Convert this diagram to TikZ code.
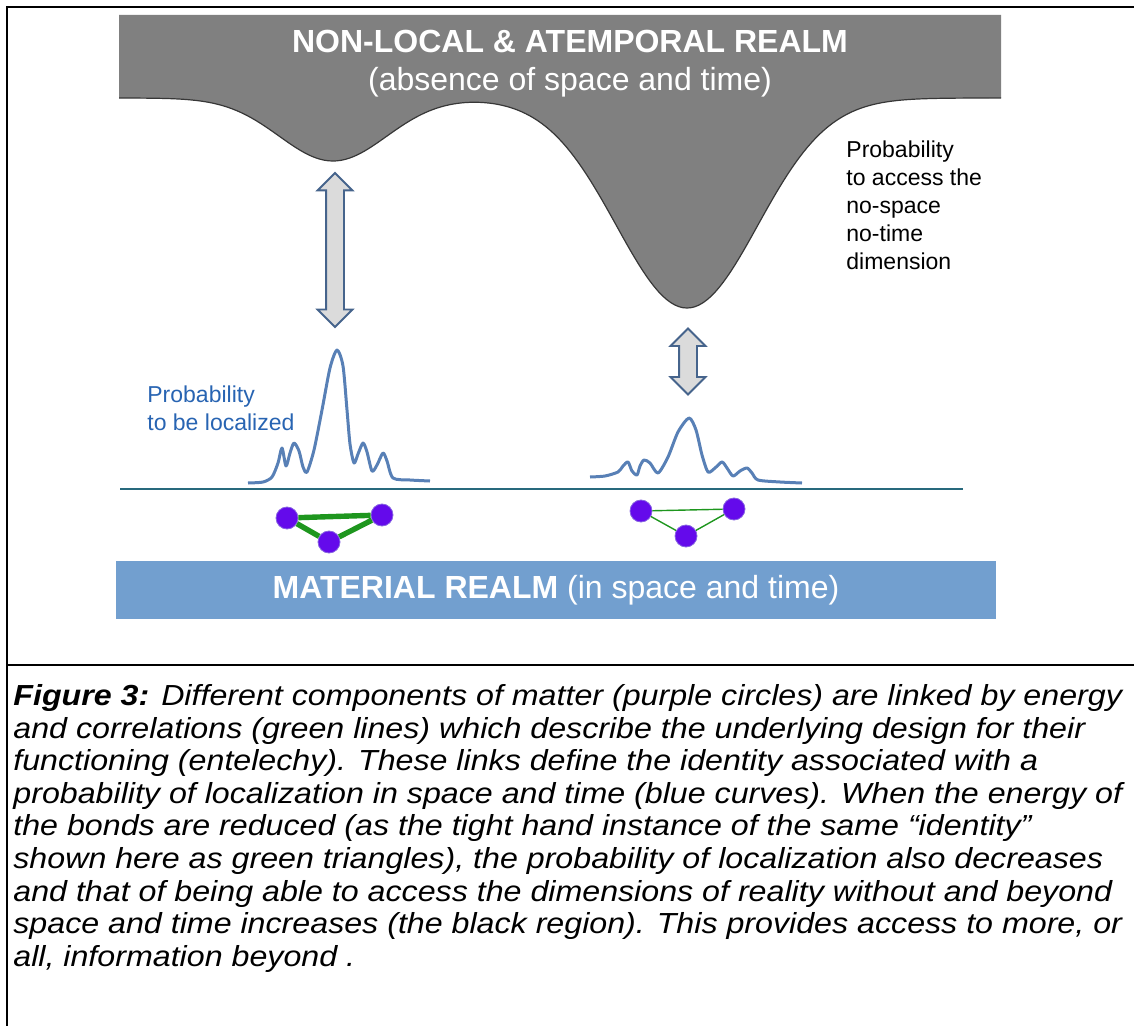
\documentclass[tikz,border=0pt]{standalone}
\usepackage{fontspec}
\setmainfont{Liberation Sans}
\newfontfamily\captionfont{Liberation Sans}[FakeStretch=1.11]
\usepackage{tikz}
\usetikzlibrary{shapes.arrows}
\definecolor{realmgray}{RGB}{128,128,128}
\definecolor{edgegray}{RGB}{55,55,55}
\definecolor{arrowedge}{RGB}{70,100,140}
\definecolor{curveblue}{RGB}{88,128,182}
\definecolor{labelblue}{RGB}{40,100,178}
\definecolor{axisteal}{RGB}{40,105,125}
\definecolor{atom}{RGB}{100,10,235}
\definecolor{atomedge}{RGB}{135,100,225}
\definecolor{bond}{RGB}{30,150,30}
\definecolor{matblue}{RGB}{114,159,207}
\tikzstyle{frame} = [line width=1.25pt, black]
\tikzstyle{realm} = [fill=realmgray]
\tikzstyle{realmedge} = [draw=edgegray, line width=0.6pt]
\tikzstyle{heading} = [text=white, font=\fontsize{16}{19}\selectfont, inner sep=0pt]
\tikzstyle{note} = [align=left, anchor=north west, inner sep=0pt, font=\fontsize{11.5}{14}\selectfont]
\tikzstyle{updown} = [double arrow, rotate=90, fill=gray!28, draw=arrowedge, line width=0.9pt, inner xsep=0pt, inner ysep=4pt, minimum width=0pt, double arrow head extend=4.25pt, double arrow tip angle=90]
\tikzstyle{wave} = [curveblue, line width=1.5pt, smooth, tension=0.45, line join=round]
\tikzstyle{atomnode} = [circle, fill=atom, draw=atomedge, line width=0.4pt, minimum size=11pt, inner sep=0pt]
\tikzstyle{strongbond} = [bond, line width=2.7pt]
\tikzstyle{weakbond} = [bond, line width=0.7pt]
\tikzstyle{matbox} = [fill=matblue, text=white, minimum width=440pt, minimum height=29pt, inner sep=0pt, font=\fontsize{16}{19}\selectfont]

\begin{document}
\begin{tikzpicture}[x=0.5pt, y=-0.5pt,
  declare function={well(\x)=98+63*exp(-min(((\x-333)/76)^2,20))+210*exp(-min(((\x-687)/100)^2,20));}]
\useasboundingbox (0,0) rectangle (1134,1026);

% frame and caption rule
\draw[frame] (7,1040) -- (7,7) -- (1150,7);
\draw[frame] (7,665) -- (1150,665);

% non-local realm
\fill[realm] (119,15) -- (1001,15) -- (1001,98) -- plot[domain=1001:119, samples=220] (\x, {well(\x)}) -- cycle;
\draw[realmedge] plot[domain=119:1001, samples=220] (\x, {well(\x)});
\node (title) [heading] at (570,41) {\textbf{NON-LOCAL \& ATEMPORAL REALM}};
\node (subtitle) [heading] at (570,82) {(absence of space and time)};
\node (access) [note] at (846,140) {Probability\\to access the\\no-space\\no-time\\dimension};

% arrows between the realms
\node (arrL) [updown, minimum height=77pt] at (335,250) {};
\node (arrR) [updown, minimum height=33pt] at (688,361.5) {};

% localization curves
\node (local) [note, text=labelblue] at (147,385) {Probability\\to be localized};
\draw[axisteal, line width=0.75pt] (120,489) coordinate (axisL) -- (963,489) coordinate (axisR);
\draw[wave] plot coordinates {(248,483) (263,482) (272,477) (278,463) (282,448) (286,466) (290,453) (294,443) (299,451) (303,467) (307,472) (314,450) (322,410) (330,368) (337,350) (343,366) (347,410) (350,444) (354,463) (358,454) (363,443) (367,452) (372,471) (377,465) (383,453) (387,461) (393,478) (410,480) (430,481)};
\draw[wave] plot coordinates {(590,477) (605,476) (618,472) (623,466) (628,462) (632,471) (637,475) (640,466) (644,460) (650,463) (658,473) (668,457) (678,432) (689,418) (696,430) (702,455) (708,472) (715,468) (722,462) (727,468) (733,476) (740,471) (747,468) (752,473) (758,480) (780,482) (802,483)};

% identities
\node (la) [atomnode] at (287,518) {};
\node (lb) [atomnode] at (382,515) {};
\node (lc) [atomnode] at (329,542) {};
\draw[strongbond] (la) -- (lb) -- (lc) -- (la);
\node (ra) [atomnode] at (641,511) {};
\node (rb) [atomnode] at (734,509) {};
\node (rc) [atomnode] at (686,536) {};
\draw[weakbond] (ra) -- (rb) -- (rc) -- (ra);

% material realm
\node (material) [matbox] at (556,590) {\textbf{MATERIAL REALM} (in space and time)};

% caption
\node (caption) [anchor=north west, align=left, inner sep=0pt, font=\captionfont\fontsize{14.5}{16.3}\selectfont\itshape] at (13,684) {\textbf{Figure 3:} Different components of matter (purple circles) are linked by energy\\and correlations (green lines) which describe the underlying design for their\\functioning (entelechy). These links define the identity associated with a\\probability of localization in space and time (blue curves). When the energy of\\the bonds are reduced (as the tight hand instance of the same “identity”\\shown here as green triangles), the probability of localization also decreases\\and that of being able to access the dimensions of reality without and beyond\\space and time increases (the black region). This provides access to more, or\\all, information beyond .};

\end{tikzpicture}
\end{document}
